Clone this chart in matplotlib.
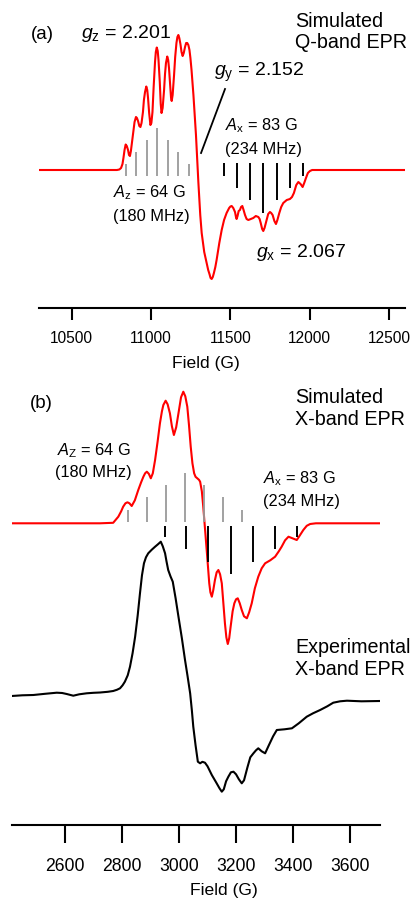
import matplotlib
matplotlib.use("Agg")
import matplotlib.pyplot as plt

plt.rcParams['font.family'] = ['Liberation Sans', 'DejaVu Sans']
plt.rcParams['mathtext.fontset'] = 'custom'
plt.rcParams['mathtext.rm'] = 'Liberation Sans'
plt.rcParams['mathtext.it'] = 'Liberation Sans:italic'

# (a) simulated Q-band spectrum, field in G, intensity in arbitrary units
q_field = [10294, 10785, 10800, 10811, 10820, 10826, 10833, 10840, 10847, 10855,
           10861, 10867, 10873, 10883, 10890, 10896, 10905, 10911, 10918, 10926,
           10933, 10940, 10949, 10955, 10962, 10970, 10976, 10981, 10988, 10996,
           11002, 11009, 11016, 11025, 11030, 11036, 11042, 11047, 11055, 11061,
           11066, 11073, 11082, 11088, 11094, 11102, 11108, 11113, 11120, 11126,
           11130, 11136, 11145, 11152, 11160, 11166, 11172, 11178, 11185, 11192,
           11199, 11206, 11214, 11221, 11228, 11235, 11242, 11248, 11255, 11267,
           11283, 11298, 11310, 11319, 11335, 11350, 11360, 11368, 11375, 11382,
           11389, 11396, 11405, 11413, 11430, 11445, 11460, 11476, 11492, 11500,
           11508, 11518, 11529, 11535, 11539, 11545, 11552, 11560, 11567, 11575,
           11583, 11592, 11602, 11613, 11628, 11644, 11660, 11676, 11684, 11691,
           11700, 11707, 11715, 11728, 11738, 11749, 11757, 11766, 11777, 11787,
           11796, 11808, 11820, 11833, 11855, 11875, 11888, 11900, 11915, 11928,
           11942, 11955, 11965, 11976, 11988, 12001, 12015, 12600]
q_int = [0, 0, 0.5, 2, 6, 12, 20, 25.5, 24, 20,
         15, 14, 19, 32, 42, 48, 53, 52, 49, 44,
         43, 47, 58, 70, 78, 83.5, 80, 72, 57, 45,
         47, 58, 82, 108, 118, 122.5, 119, 110, 88, 66,
         57, 62, 80, 96, 107, 113.5, 110, 102, 86, 72,
         69, 75, 95, 113, 127, 133, 135, 132, 126, 118,
         114, 117, 123, 127, 127, 125, 120, 112, 100, 75,
         35, -12, -45, -63, -82, -93, -100, -104, -108, -109,
         -107, -103, -97, -90, -73, -60, -50, -43, -38, -36.5,
         -36, -38, -42, -47, -49, -46, -41, -40, -37, -36,
         -40, -45, -49, -50, -49, -48, -46, -47, -49, -53,
         -59, -61, -58, -50, -44, -42, -43, -45, -51, -54,
         -50, -43, -37, -33, -30, -29, -27, -23, -15, -12,
         -14, -17, -13, -8, -3, -1, 0, 0]

# hyperfine stick patterns (a)
qz_pos = [10842, 10905, 10973, 11039, 11105, 11172, 11237]
qz_top = [6, 17.7, 30, 42.3, 30, 17.7, 6]
qx_pos = [11460, 11543, 11623, 11707, 11792, 11875, 11959]
qx_bot = [-5.7, -17.7, -30, -42.7, -30, -17.7, -5.7]

# (b) simulated X-band spectrum
x_field = [2413, 2723, 2750, 2769, 2787, 2797, 2804, 2812, 2819, 2826,
           2834, 2845, 2857, 2867, 2875, 2881, 2887, 2894, 2901, 2908,
           2916, 2925, 2933, 2940, 2945, 2953, 2960, 2968, 2975, 2982,
           2990, 2998, 3007, 3015, 3022, 3029, 3035, 3041, 3047, 3053,
           3058, 3064, 3070, 3074, 3080, 3085, 3091, 3097, 3102, 3106,
           3110, 3115, 3120, 3126, 3132, 3138, 3144, 3150, 3155, 3161,
           3166, 3171, 3176, 3181, 3188, 3194, 3200, 3206, 3213, 3220,
           3228, 3238, 3246, 3255, 3266, 3278, 3290, 3302, 3320, 3337,
           3350, 3360, 3372, 3384, 3398, 3413, 3424, 3436, 3448, 3460,
           3480, 3705]
x_int = [0, 0, 0.3, 0.5, 6.6, 12, 16.6, 20, 21, 20,
         17.3, 23, 33.3, 41, 46.6, 50, 51.6, 49.5, 45, 50,
         63.3, 82, 100, 112, 118.3, 122.6, 119, 110, 97, 88.3,
         96, 110, 126, 131.6, 127, 116.6, 98, 76.6, 60, 50,
         46.5, 45, 43.5, 41.6, 32, 16.6, -5, -26.7, -45, -60,
         -69, -73.4, -67, -56.7, -49, -46.7, -51, -60, -78, -100,
         -114, -120.7, -115, -103.4, -88, -80, -76, -75, -80, -86.7,
         -93, -95, -89, -80, -65, -53.4, -45, -40, -37, -33.4,
         -28, -23.4, -17, -13.4, -15, -16.7, -12, -6.7, -2.5, -0.7,
         0, 0]

# (b) experimental X-band spectrum
exp_field = [2413, 2450, 2489, 2530, 2571, 2590, 2606, 2629, 2650, 2676,
             2700, 2723, 2750, 2769, 2782, 2793, 2802, 2810, 2820, 2828,
             2837, 2846, 2855, 2863, 2870, 2877, 2884, 2892, 2904, 2916,
             2926, 2936, 2943, 2951, 2956, 2962, 2970, 2978, 2988, 2998,
             3010, 3021, 3030, 3039, 3045, 3050, 3058, 3066, 3074, 3082,
             3091, 3100, 3115, 3130, 3142, 3150, 3157, 3165, 3173, 3182,
             3191, 3200, 3210, 3220, 3228, 3240, 3250, 3261, 3270, 3278,
             3290, 3302, 3315, 3330, 3343, 3370, 3396, 3420, 3448, 3470,
             3495, 3520, 3541, 3565, 3589, 3640, 3705]
exp_int = [-172.7, -172, -171.7, -170.5, -169.4, -169.7, -170.7, -172.4, -171, -170,
           -169.5, -169.2, -168.5, -167.7, -166.5, -165, -162, -158.4, -152, -143.4,
           -130, -113.4, -92, -70, -52, -40, -34, -30, -26.5, -23.4,
           -21, -18.4, -23, -30, -38, -46.7, -53, -58.4, -75, -93.4,
           -115, -136.7, -153, -170, -187, -203.4, -222, -238.4, -240, -238.5,
           -239.4, -243, -251.7, -259, -265, -268.4, -266, -258, -253.4, -249,
           -248.4, -251, -256, -260, -257, -244, -234, -230, -227, -225,
           -228, -230, -222, -213, -206.7, -206, -205, -200, -193.4, -190,
           -186.7, -183, -179.4, -178, -177.4, -178, -177.7]

# hyperfine stick patterns (b)
xz_pos = [2822, 2888, 2953, 3021, 3088, 3155, 3220]
xz_top = [13.3, 26, 38.3, 50.6, 38.3, 26, 13.3]
xx_pos = [2950, 3024, 3103, 3181, 3261, 3337, 3413]
xx_bot = [-14, -26, -38.4, -51, -38.4, -26, -14]

W, H = 418, 901
fig = plt.figure(figsize=(W / 100, H / 100), dpi=100)

def px_axes(left, right, top, bottom):
    return fig.add_axes([left / W, 1 - bottom / H, (right - left) / W, (bottom - top) / H])

def style(ax, ticklen, pad, size):
    for s in ['top', 'right', 'left']:
        ax.spines[s].set_visible(False)
    ax.spines['bottom'].set_linewidth(1.5)
    ax.set_yticks([])
    ax.tick_params(axis='x', length=ticklen, width=1.5, pad=pad, labelsize=size)
    ax.patch.set_alpha(0)

def ftext(x, y, s, size, ha='left'):
    fig.text(x / W, 1 - y / H, s, fontsize=size, ha=ha, va='baseline')

red = '#ff0000'
grey = '#9a9a9a'

# panel (a)
ax1 = px_axes(39, 405, 0, 308)
ax1.plot(q_field, q_int, color=red, lw=1.5)
ax1.vlines(qz_pos, -6, qz_top, color=grey, lw=1.3)
ax1.vlines(qx_pos, qx_bot, 6.7, color='black', lw=1.4)
ax1.plot([11466, 11315], [81, 17], color='black', lw=1.3)
ax1.set_xlim(10294, 12600)
ax1.set_ylim(-138, 170)
ax1.set_xticks([10500, 11000, 11500, 12000, 12500])
style(ax1, 8.5, 8, 11.2)

ftext(31, 39, '(a)', 13.5)
ftext(81, 38.3, r'$\mathit{g}_\mathrm{z}$ = 2.201', 14)
ftext(295, 27.3, 'Simulated', 14.2)
ftext(295, 48.3, 'Q-band EPR', 14.2)
ftext(214, 76, r'$\mathit{g}_\mathrm{y}$ = 2.152', 14)
ftext(225, 130, r'$\mathit{A}_\mathrm{x}$ = 83 G', 11.8)
ftext(225, 154, '(234 MHz)', 11.8)
ftext(113, 197.3, r'$\mathit{A}_\mathrm{z}$ = 64 G', 11.8)
ftext(113, 221, '(180 MHz)', 11.8)
ftext(256, 256.7, r'$\mathit{g}_\mathrm{x}$ = 2.067', 14)
ftext(206, 368, 'Field (G)', 12.6, ha='center')

# panel (b)
ax2 = px_axes(11.7, 380, 380, 825)
ax2.plot(x_field, x_int, color=red, lw=1.5)
ax2.plot(exp_field, exp_int, color='black', lw=1.5)
ax2.vlines(xz_pos, 1.6, xz_top, color=grey, lw=1.3)
ax2.vlines(xx_pos, xx_bot, -2.7, color='black', lw=1.4)
ax2.set_xlim(2413, 3705)
ax2.set_ylim(-301.7, 143.3)
ax2.set_xticks([2600, 2800, 3000, 3200, 3400, 3600])
style(ax2, 13, 11, 12.7)

ftext(30, 408.3, '(b)', 13.5)
ftext(295, 403.3, 'Simulated', 14.2)
ftext(295, 425, 'X-band EPR', 14.2)
ftext(57, 455, r'$\mathit{A}_\mathrm{Z}$ = 64 G', 11.8)
ftext(55, 476.7, '(180 MHz)', 11.8)
ftext(263, 483.3, r'$\mathit{A}_\mathrm{x}$ = 83 G', 11.8)
ftext(263, 505.7, '(234 MHz)', 11.8)
ftext(295, 652.7, 'Experimental', 14.2)
ftext(295, 675, 'X-band EPR', 14.2)
ftext(224, 895, 'Field (G)', 12.6, ha='center')

fig.savefig('out.png', dpi=100)
